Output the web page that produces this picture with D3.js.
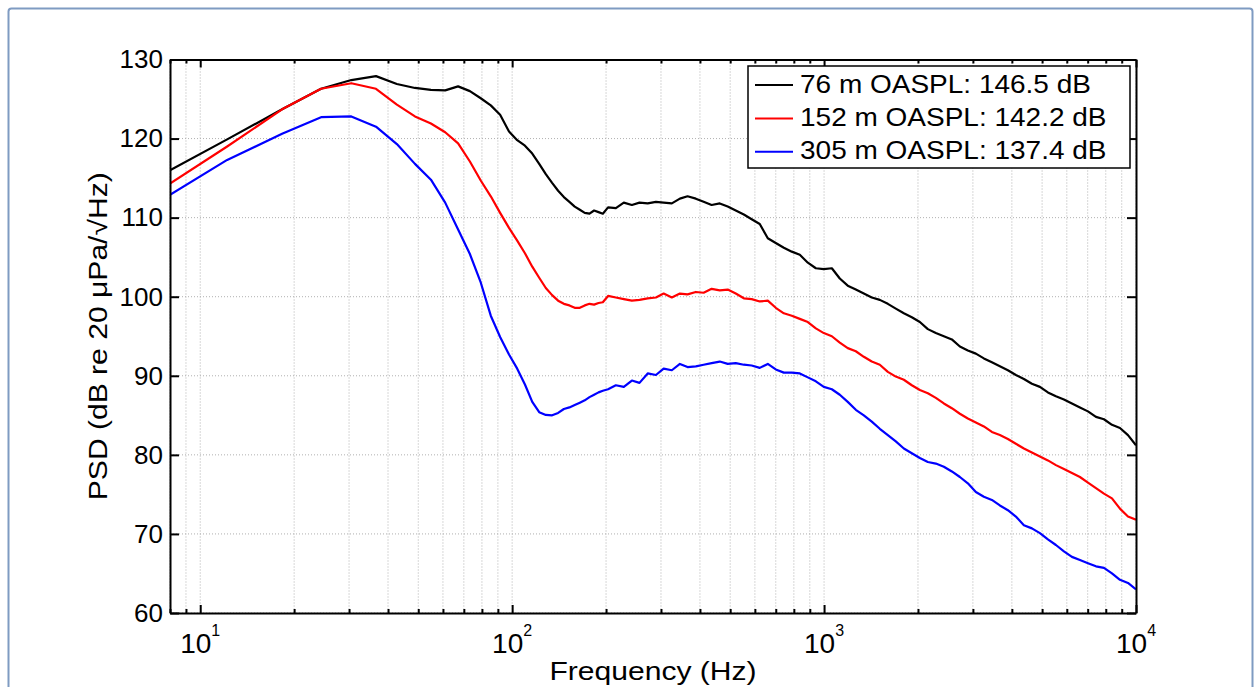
<!DOCTYPE html>
<html>
<head>
<meta charset="utf-8">
<script src="https://cdn.jsdelivr.net/npm/d3@7"></script>
<style>
  html, body { margin: 0; padding: 0; background: #fff; }
  svg { display: block; font-family: "Liberation Sans", Arial, Helvetica, sans-serif; }
</style>
</head>
<body>
<svg id="chart" width="1257" height="687"></svg>
<script>
// ---- data ----
const freq = [8, 12.2, 18.3, 24.4, 30.5, 36.6, 42.7, 48.8, 54.9, 61.0, 67.1, 73.2, 79.3, 85.4, 91.5, 97.7,
  103.8, 109.9, 116.0, 122.1, 128.2, 134.3, 140.4, 146.5, 152.6, 158.7, 164.8, 170.9, 177.0, 183.1, 189.2, 195.3,
  203, 215, 228, 242, 256, 272, 289, 306, 325, 345, 365, 388, 411, 436, 463, 491, 521, 553, 586, 622, 660, 700,
  743, 788, 836, 887, 941, 998, 1059, 1123, 1191, 1264, 1341, 1422, 1509, 1601, 1698, 1802, 1911, 2028, 2151,
  2282, 2421, 2568, 2725, 2890, 3066, 3253, 3451, 3661, 3884, 4120, 4371, 4637, 4920, 5219, 5537, 5874, 6232,
  6611, 7014, 7441, 7893, 8374, 8884, 9425, 10000];

const psd76 = [116.0, 119.9, 123.7, 126.3, 127.4, 127.9, 126.9, 126.4, 126.15, 126.1, 126.6, 126.0, 125.1, 124.2, 123.0, 120.9,
  119.8, 119.1, 118.1, 116.8, 115.5, 114.4, 113.4, 112.6, 112.0, 111.4, 111.0, 110.6, 110.5, 110.9, 110.7, 110.5,
  111.3, 111.2, 111.9, 111.6, 111.9, 111.8, 112.0, 111.9, 111.8, 112.4, 112.7, 112.4, 112.0, 111.6, 111.8, 111.4,
  110.9, 110.4, 109.8, 109.2, 107.4, 106.8, 106.2, 105.7, 105.3,
  104.3, 103.6, 103.5, 103.6, 102.3, 101.4, 100.9, 100.4, 99.9, 99.6, 99.1, 98.5, 97.9, 97.4, 96.8, 95.9, 95.4,
  95.0, 94.6, 93.7, 93.2, 92.8, 92.2, 91.7, 91.2, 90.7, 90.1, 89.6, 89.0, 88.6, 87.9, 87.4, 87.0, 86.5, 86.0,
  85.5, 84.8, 84.5, 83.8, 83.4, 82.5, 81.2];

const psd152 = [114.3, 119.0, 123.7, 126.3, 127.0, 126.3, 124.3, 122.8, 121.9, 120.8, 119.4, 117.1, 114.7, 112.7, 110.6, 108.7,
  107.1, 105.5, 103.8, 102.4, 101.1, 100.2, 99.5, 99.1, 98.9, 98.6, 98.6, 98.9, 99.1, 99.0, 99.2, 99.3,
  100.1, 99.9, 99.7, 99.5, 99.6, 99.8, 99.9, 100.4, 99.9, 100.4, 100.3, 100.6, 100.5, 101.0, 100.8, 100.9,
  100.4, 99.8, 99.7, 99.4, 99.5, 98.6, 97.9, 97.6, 97.2,
  96.8, 96.0, 95.4, 95.0, 94.2, 93.5, 93.1, 92.4, 91.8, 91.4, 90.5, 89.9, 89.5, 88.8, 88.2, 87.8, 87.2,
  86.5, 85.9, 85.2, 84.6, 84.1, 83.6, 82.9, 82.5, 82.0, 81.4, 80.8, 80.3, 79.8, 79.3, 78.7, 78.2, 77.7, 77.2,
  76.5, 75.8, 75.1, 74.5, 73.2, 72.2, 71.8];

const psd305 = [112.9, 117.3, 120.6, 122.7, 122.8, 121.5, 119.3, 116.8, 114.8, 111.9, 108.5, 105.4, 101.8, 97.6, 94.9, 92.7,
  90.9, 88.9, 86.7, 85.4, 85.05, 85.0, 85.3, 85.8, 86.0, 86.3, 86.6, 86.9, 87.3, 87.6, 87.9, 88.1,
  88.3, 88.8, 88.6, 89.4, 89.1, 90.3, 90.1, 90.9, 90.7, 91.5, 91.1, 91.2, 91.4, 91.6, 91.8, 91.5,
  91.6, 91.4, 91.3, 91.0, 91.5, 90.8, 90.4, 90.4, 90.3,
  89.8, 89.3, 88.6, 88.3, 87.6, 86.7, 85.7, 85.0, 84.2, 83.3, 82.5, 81.7, 80.8, 80.2, 79.6, 79.1, 78.9,
  78.5, 77.9, 77.2, 76.4, 75.3, 74.7, 74.3, 73.6, 73.0, 72.2, 71.1, 70.7, 70.1, 69.3, 68.6, 67.8, 67.1, 66.7,
  66.3, 65.9, 65.7, 65.0, 64.2, 63.8, 63.0];

const seriesNames = ["76 m OASPL: 146.5 dB", "152 m OASPL: 142.2 dB", "305 m OASPL: 137.4 dB"];
const seriesColors = ["#000000", "#ff0000", "#0000ff"];
const yTicks = [60, 70, 80, 90, 100, 110, 120, 130];
const xMajor = [10, 100, 1000, 10000];
const xMajorExp = ["1", "2", "3", "4"];
const xDomain = [8, 10000];
const yDomain = [60, 130];

// ---- layout ----
const svg = d3.select("#chart");
const L = 170, R = 1136, T = 59.5, B = 613;

// outer frame
svg.append("rect").attr("x", 8.5).attr("y", 8.5).attr("width", 1244).attr("height", 700)
  .attr("rx", 3).attr("fill", "none").attr("stroke", "#7f9bc2").attr("stroke-width", 2);

const x = d3.scaleLog().domain(xDomain).range([L, R]);
const y = d3.scaleLinear().domain(yDomain).range([B, T]);

// minor ticks
const xMinor = [];
[1, 10, 100, 1000].forEach(d => { for (let k = 2; k <= 9; k++) { const v = d * k; if (v >= 8 && v <= 10000) xMinor.push(v); } });

const g = svg.append("g");

// grid
g.selectAll(".gx").data(xMajor.concat(xMinor)).join("line")
  .attr("x1", d => x(d)).attr("x2", d => x(d)).attr("y1", T).attr("y2", B)
  .attr("stroke", "#b0b0b0").attr("stroke-width", 1).attr("stroke-dasharray", "1,2");
g.selectAll(".gy").data(yTicks).join("line")
  .attr("x1", L).attr("x2", R).attr("y1", d => y(d)).attr("y2", d => y(d))
  .attr("stroke", "#b0b0b0").attr("stroke-width", 1).attr("stroke-dasharray", "1,2");

// lines
const line = d3.line().x(d => x(d[0])).y(d => y(d[1]));
const allSeries = [psd76, psd152, psd305];
svg.append("clipPath").attr("id", "clp").append("rect")
  .attr("x", L).attr("y", T).attr("width", R - L).attr("height", B - T);
const lg = svg.append("g").attr("clip-path", "url(#clp)");
allSeries.forEach((s, i) => {
  lg.append("path").datum(freq.map((f, j) => [f, s[j]]))
    .attr("d", line).attr("fill", "none").attr("stroke", seriesColors[i])
    .attr("stroke-width", 2.2).attr("stroke-linejoin", "round");
});

// axes (inward ticks on all four sides)
const axStyle = sel => { sel.select(".domain").attr("stroke", "#000").attr("stroke-width", 2);
  sel.selectAll(".tick line").attr("stroke", "#000").attr("stroke-width", 2); };

const yl = svg.append("g").attr("transform", `translate(${L},0)`)
  .call(d3.axisLeft(y).tickValues(yTicks).tickSize(-9).tickSizeOuter(0).tickPadding(7));
axStyle(yl);
yl.selectAll(".tick text").attr("font-size", 26).attr("fill", "#000")
  .attr("font-family", "Liberation Sans, Arial, sans-serif");
const yr = svg.append("g").attr("transform", `translate(${R},0)`)
  .call(d3.axisRight(y).tickValues(yTicks).tickSize(-9).tickSizeOuter(0).tickFormat(""));
axStyle(yr);

const xb = svg.append("g").attr("transform", `translate(0,${B})`)
  .call(d3.axisBottom(x).tickValues(xMajor).tickSize(-8).tickSizeOuter(0).tickFormat(""));
axStyle(xb);
const xbm = svg.append("g").attr("transform", `translate(0,${B})`)
  .call(d3.axisBottom(x).tickValues(xMinor).tickSize(-4).tickSizeOuter(0).tickFormat(""));
axStyle(xbm); xbm.select(".domain").remove();
const xt = svg.append("g").attr("transform", `translate(0,${T})`)
  .call(d3.axisTop(x).tickValues(xMajor).tickSize(-8).tickSizeOuter(0).tickFormat(""));
axStyle(xt);
const xtm = svg.append("g").attr("transform", `translate(0,${T})`)
  .call(d3.axisTop(x).tickValues(xMinor).tickSize(-4).tickSizeOuter(0).tickFormat(""));
axStyle(xtm); xtm.select(".domain").remove();

// x tick labels 10^n
const xlab = svg.append("g");
xMajor.forEach((v, i) => {
  const t = xlab.append("text").attr("x", x(v)).attr("y", 653).attr("text-anchor", "middle")
    .attr("font-size", 28).attr("fill", "#000");
  t.append("tspan").text("10");
  t.append("tspan").attr("dy", -17).attr("font-size", 16).text(xMajorExp[i]);
});

// axis titles (reference text is slightly wider than the font's natural width)
svg.append("text").attr("transform", `translate(${(L + R) / 2},680) scale(1.18,1)`)
  .attr("text-anchor", "middle").attr("font-size", 25.5).attr("fill", "#000").text("Frequency (Hz)");
svg.append("text").attr("transform", `translate(107,${(T + B) / 2}) rotate(-90) scale(1.18,1)`)
  .attr("text-anchor", "middle").attr("font-size", 25.5).attr("fill", "#000")
  .text("PSD (dB re 20 \u03bcPa/\u221aHz)");

// legend
const leg = svg.append("g");
leg.append("rect").attr("x", 748).attr("y", 66).attr("width", 382).attr("height", 102)
  .attr("fill", "#fff").attr("stroke", "#000").attr("stroke-width", 1.5);
seriesNames.forEach((n, i) => {
  const cy = 85 + i * 33.4;
  leg.append("line").attr("x1", 755).attr("x2", 793).attr("y1", cy).attr("y2", cy)
    .attr("stroke", seriesColors[i]).attr("stroke-width", 2);
  leg.append("text").attr("transform", `translate(800,${cy + 7.5}) scale(1.12,1)`)
    .attr("font-size", 25).attr("fill", "#000").text(n);
});
</script>
</body>
</html>
